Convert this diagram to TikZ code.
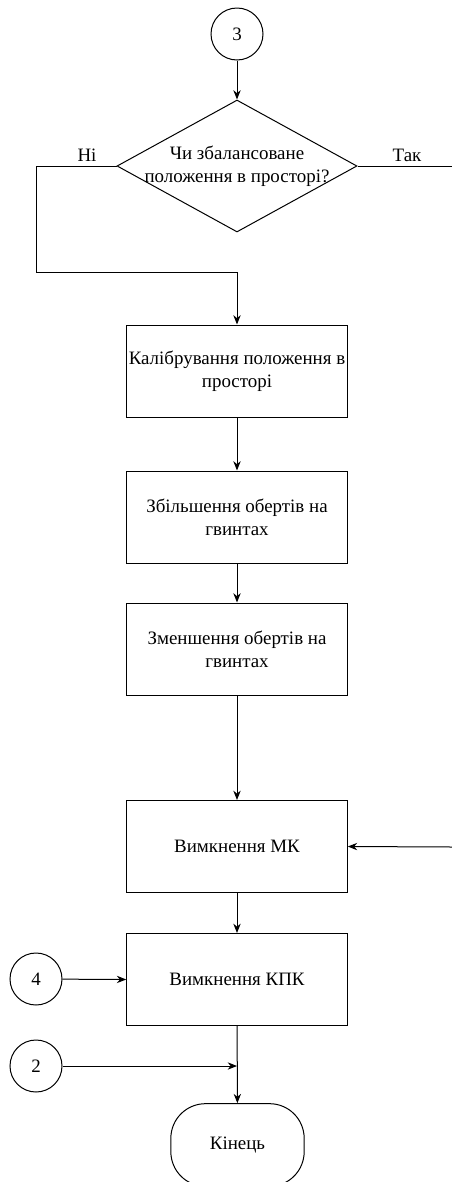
\documentclass[tikz,border=0pt]{standalone}
\usepackage{fontspec}
\setmainfont{Liberation Serif}
\usetikzlibrary{arrows.meta,shapes.geometric}

\tikzset{every picture/.style={line width=0.75pt}}
\tikzset{
  conn/.style={draw, circle, minimum size=39pt, inner sep=0pt},
  procbox/.style={draw, rectangle, minimum width=165.5pt, minimum height=69pt, inner sep=0pt, align=center},
  decide/.style={draw, diamond, minimum width=180pt, minimum height=99pt, inner sep=0pt},
  termbox/.style={draw, rectangle, rounded corners=26pt, minimum width=100pt, minimum height=62pt},
  arr/.style={-{Stealth[length=7pt,width=5.5pt]}},
}

\begin{document}
\begin{tikzpicture}[x=0.75pt,y=0.75pt,yscale=-1,xscale=1,font=\fontsize{14.2}{17.25}\selectfont]
\useasboundingbox (0,0) rectangle (451,1182);

%Flowchart: Connector
\node[conn] (c3) at (237,34) {3};
%Flowchart: Decision
\node[decide] (dec) at (237,166) {};
\node[align=center] (dectxt) at (237,166) {Чи збалансоване\\положення в просторі?};
%Flowchart: Process
\node[procbox] (b1) at (237,371) {Калібрування положення в\\просторі};
\node[procbox] (b2) at (237,517) {Збільшення обертів на\\гвинтах};
\node[procbox] (b3) at (237,649) {Зменшення обертів на\\гвинтах};
\node[procbox] (b4) at (237,846.5) {Вимкнення МК};
\node[procbox] (b5) at (237,979.5) {Вимкнення КПК};
%Flowchart: Connector
\node[conn] (c4) at (36,979) {4};
\node[conn] (c2) at (36,1066) {2};
%Flowchart: Terminator
\node[termbox] (end) at (237.5,1145) {Кінець};

%Text labels
\node (no) at (87,155) {Ні};
\node (yes) at (407,155) {Так};

%Coordinates
\coordinate (noL) at (36,166);
\coordinate (noJ) at (237,272);
\coordinate (yesR) at (452,166);
\coordinate (mkIn) at (452,847);
\coordinate (j2) at (237,1066);

%Straight Lines
\draw[arr] (c3) -- (dec);
\draw[arr] (dec.west) -- (noL) |- (noJ) -- (b1.north);
\draw (dec.east) -- (yesR);
\draw[arr] (b1) -- (b2);
\draw[arr] (b2) -- (b3);
\draw[arr] (b3) -- (b4);
\draw[arr] (mkIn) -- (b4.east);
\draw[arr] (b4) -- (b5);
\draw[arr] (c4) -- (b5.west);
\draw[arr] (c2) -- (j2);
\draw[arr] (b5) -- (end);

\end{tikzpicture}
\end{document}
